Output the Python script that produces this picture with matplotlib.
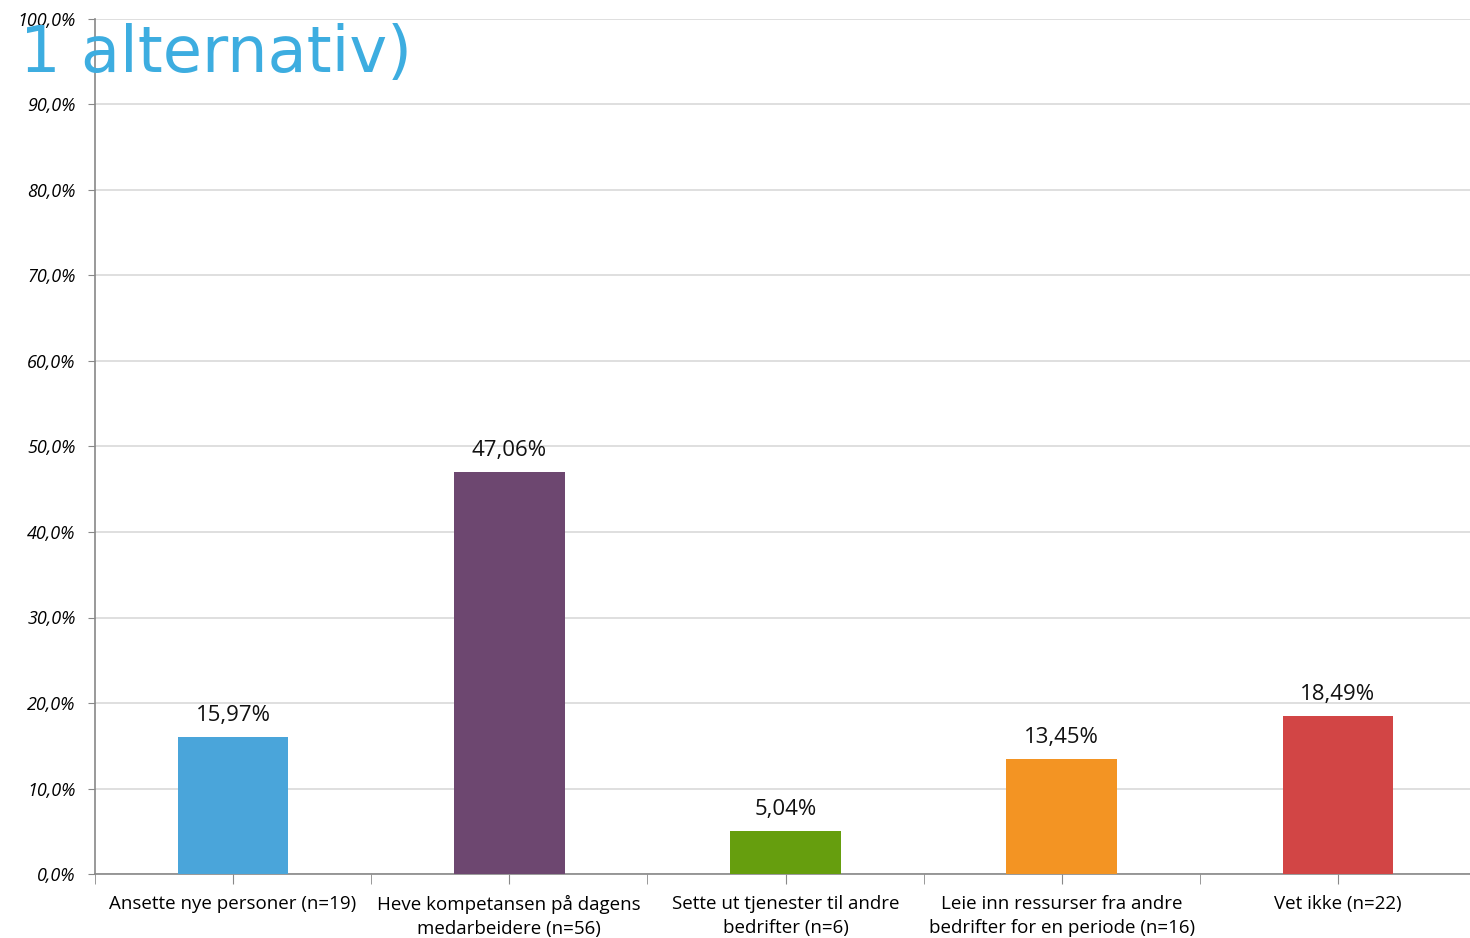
import matplotlib
matplotlib.use('Agg')
import matplotlib.pyplot as plt
import numpy as np

categories = [
    'Ansette nye personer (n=19)',
    'Heve kompetansen på dagens\nmedarbeidere (n=56)',
    'Sette ut tjenester til andre\nbedrifter (n=6)',
    'Leie inn ressurser fra andre\nbedrifter for en periode (n=16)',
    'Vet ikke (n=22)',
]
values = [15.97, 47.06, 5.04, 13.45, 18.49]
colors = ['#4AA5DA', '#6D4770', '#669E0E', '#F39423', '#D24545']
title_tail = '1 alternativ)'

plt.rcParams['font.family'] = ['Open Sans', 'DejaVu Sans']

fig = plt.figure(figsize=(14.7, 9.38), dpi=100)
ax = fig.add_axes([95 / 1470, 1 - 874 / 938, (1476 - 95) / 1470, (874 - 19) / 938])

x = np.arange(len(values))
ax.bar(x, values, width=0.4, color=colors, zorder=3)
for xi, v in zip(x, values):
    ax.text(xi, v + 1.3, f'{v:.2f}%'.replace('.', ','), ha='center', va='bottom',
            fontsize=16, color='#111111')

ax.set_xlim(-0.5, len(values) - 0.5)
ax.set_ylim(0, 100)
ax.set_yticks(np.arange(0, 101, 10))
ax.set_yticklabels([f'{t:.1f}%'.replace('.', ',') for t in np.arange(0, 101, 10)],
                   fontstyle='italic', fontsize=13)
ax.yaxis.grid(True, color='#D9D9D9', linewidth=1.2, zorder=0)

ax.set_xticks(x)
ax.set_xticklabels(categories, fontsize=13.5, linespacing=1.45)
ax.set_xticks(np.arange(-0.5, len(values), 1), minor=True)
ax.tick_params(axis='x', which='both', length=7, color='#888888', pad=8)
ax.tick_params(axis='y', length=5, color='#888888', pad=9)

for side in ['top', 'right']:
    ax.spines[side].set_visible(False)
for side in ['left', 'bottom']:
    ax.spines[side].set_color('#888888')
    ax.spines[side].set_linewidth(1.2)

fig.text(20 / 1470, 1 - 72 / 938, title_tail, fontsize=46, color='#3DADE0',
         family='DejaVu Sans', ha='left', va='baseline', zorder=10)

fig.savefig('out.png', dpi=100)
